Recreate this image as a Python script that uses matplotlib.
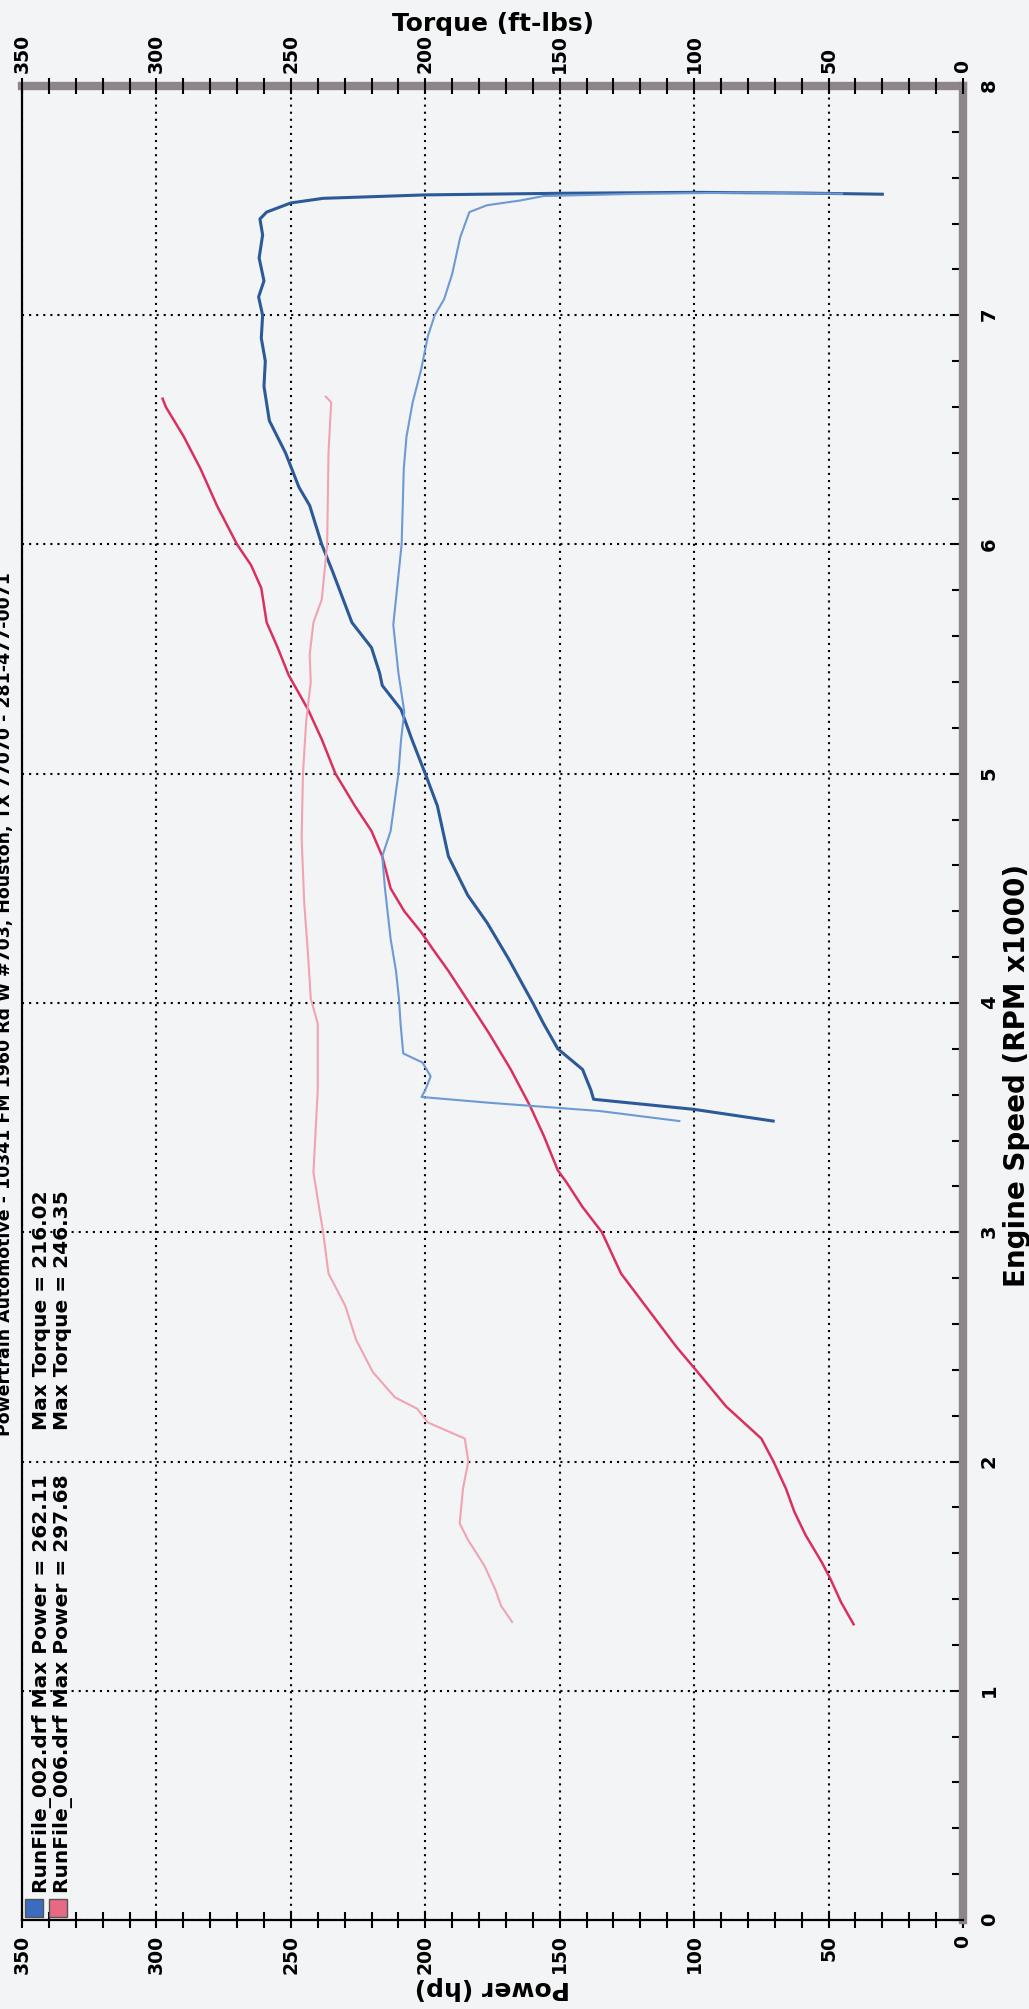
import numpy as np
import matplotlib.pyplot as plt
from matplotlib.patches import Rectangle

plt.rcParams['font.family'] = ['DejaVu Sans']
plt.rcParams['font.weight'] = 'bold'

# engine speed in rpm x1000, power in hp, torque in ft-lbs
# RunFile_002 (blue)
rpm_002_hp = [3.485, 3.536, 3.58, 3.62, 3.71, 3.80, 3.91, 4.0, 4.19, 4.35, 4.47, 4.64,
              4.86, 5.0, 5.15, 5.28, 5.385, 5.44, 5.55, 5.66, 5.88, 6.0, 6.17, 6.25,
              6.40, 6.54, 6.69, 6.8, 6.9, 7.0, 7.08, 7.15, 7.25, 7.35, 7.42, 7.45,
              7.49, 7.51, 7.525, 7.532, 7.536, 7.533, 7.528]
hp_002 = [70.6, 100.0, 137.4, 138.4, 141.5, 150.7, 156.0, 160.0, 168.9, 177.0, 184.2, 191.4,
          195.5, 200.0, 205.0, 209.0, 216.0, 217.0, 220.0, 227.3, 234.4, 238.5, 243.0, 247.0,
          252.0, 258.0, 260.0, 259.5, 261.0, 260.5, 262.0, 260.0, 261.8, 260.5, 261.5, 259.0,
          250.0, 238.0, 200.0, 150.0, 100.0, 60.0, 30.0]

rpm_002_tq = [3.485, 3.529, 3.565, 3.59, 3.62, 3.68, 3.74, 3.78, 3.91, 4.02, 4.14, 4.28,
              4.50, 4.64, 4.75, 5.0, 5.15, 5.27, 5.44, 5.65, 6.0, 6.33, 6.47, 6.62,
              6.76, 6.91, 7.0, 7.07, 7.18, 7.34, 7.45, 7.48, 7.50, 7.52, 7.53, 7.535, 7.53]
tq_002 = [105.5, 135.3, 176.4, 201.4, 200.0, 198.0, 201.0, 208.2, 209.2, 209.8, 210.9, 212.9,
          215.0, 216.0, 212.9, 210.0, 209.0, 207.8, 210.0, 211.9, 208.8, 208.0, 207.0, 204.7,
          201.6, 199.0, 196.5, 193.0, 190.0, 187.0, 183.6, 177.0, 165.0, 156.0, 120.0, 80.0, 45.0]

# RunFile_006 (red)
rpm_006_hp = [1.29, 1.385, 1.49, 1.56, 1.68, 1.78, 1.88, 2.0, 2.1, 2.24, 2.40, 2.50,
              2.66, 2.82, 3.0, 3.11, 3.22, 3.27, 3.42, 3.55, 3.71, 3.87, 4.0, 4.14,
              4.24, 4.31, 4.40, 4.50, 4.64, 4.75, 4.86, 5.0, 5.15, 5.28, 5.43, 5.55,
              5.66, 5.81, 5.91, 6.0, 6.17, 6.33, 6.47, 6.60, 6.636]
hp_006 = [40.7, 45.3, 49.4, 52.5, 58.6, 62.7, 65.8, 70.5, 75.0, 88.1, 99.4, 106.6,
          116.9, 127.2, 134.3, 141.5, 147.6, 150.7, 155.9, 161.0, 168.2, 176.4, 183.6, 191.4,
          197.5, 201.6, 207.8, 212.9, 216.0, 220.0, 226.2, 233.4, 238.5, 243.6, 250.8, 254.9,
          259.0, 261.0, 264.8, 270.0, 277.5, 283.6, 289.8, 296.5, 297.7]

rpm_006_tq = [1.30, 1.37, 1.44, 1.545, 1.66, 1.73, 1.88, 2.0, 2.10, 2.17, 2.23, 2.28,
              2.39, 2.53, 2.68, 2.82, 3.0, 3.26, 3.62, 3.91, 4.02, 4.21, 4.43, 4.72,
              5.0, 5.23, 5.40, 5.52, 5.66, 5.76, 6.0, 6.40, 6.62, 6.645]
tq_006 = [167.7, 171.8, 173.9, 178.0, 184.2, 187.2, 186.0, 184.0, 185.3, 199.0, 203.0, 211.3,
          219.5, 225.7, 229.8, 236.0, 238.0, 241.6, 240.0, 240.0, 242.6, 243.6, 245.0, 246.0,
          245.5, 244.3, 242.6, 243.0, 241.6, 238.5, 236.5, 236.0, 235.0, 237.0]

title = "Powertrain Automotive - 10341 FM 1960 Rd W #703, Houston, TX 77070 - 281-477-0071"
run_names = ["RunFile_002.drf", "RunFile_006.drf"]
max_power = [262.11, 297.68]
max_torque = [216.02, 246.35]
run_colors = ['#3c6cc0', '#e86a82']

paper = '#f3f4f6'
W, H = 1029, 2009
fig = plt.figure(figsize=(W / 100, H / 100), dpi=100, facecolor=paper)

# chart is printed turned a quarter turn: rpm runs up the page, power/torque run right-to-left
ax = fig.add_axes([22 / W, 1 - 1920 / H, (963 - 22) / W, (1920 - 86) / H])
ax.set_facecolor(paper)
ax.set_xlim(350, 0)
ax.set_ylim(0, 8)
ax.set_xticks(np.arange(0, 351, 50))
ax.set_xticks(np.arange(0, 351, 10), minor=True)
ax.set_yticks(range(9))
ax.set_yticks(np.arange(0, 8.01, 0.2), minor=True)
ax.yaxis.tick_right()
ax.grid(True, which='major', color='black', linestyle=(0, (1, 2.4)), linewidth=1.5)

ax.tick_params(axis='x', which='both', direction='inout', length=11, width=1.5,
               labelsize=13.5, labelrotation=90, pad=5, top=False)
ax.tick_params(axis='y', which='both', direction='in', length=8, width=1.5,
               labelsize=14, labelrotation=90, pad=12, left=False)

for side in ['left', 'bottom']:
    ax.spines[side].set_color('black')
    ax.spines[side].set_linewidth(1.6)
for side in ['top', 'right']:
    ax.spines[side].set_color('#8e858b')
    ax.spines[side].set_linewidth(6)

ax.set_xlabel('Power (hp)', fontsize=18, fontweight='bold', rotation=180, labelpad=2)

# torque scale along the top
axt = ax.twiny()
axt.set_xlim(350, 0)
axt.set_xticks(np.arange(0, 351, 50))
axt.set_xticks(np.arange(0, 351, 10), minor=True)
axt.tick_params(axis='x', which='both', direction='inout', length=11, width=1.5,
                labelsize=13.5, labelrotation=90, pad=4)
for s in axt.spines.values():
    s.set_visible(False)
axt.set_xlabel('Torque (ft-lbs)', fontsize=18, fontweight='bold', labelpad=2)

ax.plot(hp_002, rpm_002_hp, color='#2c5a98', linewidth=2.2, solid_joinstyle='round')
axt.plot(tq_002, rpm_002_tq, color='#6d9ad4', linewidth=1.5, solid_joinstyle='round')
ax.plot(hp_006, rpm_006_hp, color='#d9305e', linewidth=1.8, solid_joinstyle='round')
axt.plot(tq_006, rpm_006_tq, color='#f2a3b3', linewidth=1.5, solid_joinstyle='round')

# rpm axis title, hugging the right page edge
fig.text(1025 / W, 1 - 1287 / H, 'Engine Speed (RPM x1000)', fontsize=20, fontweight='bold',
         rotation=90, rotation_mode='anchor', ha='left', va='baseline')

# title, half of it runs off the page edge as in the scan
fig.text(10 / W, 1 - 1004 / H, title, fontsize=12.5, fontweight='bold', rotation=90,
         rotation_mode='anchor', ha='center', va='baseline')

# legend block in the lower corner
for i in range(2):
    xb = (47 + 21 * i) / W
    fig.add_artist(Rectangle(((25 + 24 * i) / W, 1 - 1917 / H), 18 / W, 18 / H,
                             transform=fig.transFigure, facecolor=run_colors[i],
                             edgecolor='#555555', linewidth=1))
    fig.text(xb, 1 - 1893 / H, '%s Max Power = %.2f' % (run_names[i], max_power[i]),
             fontsize=14.5, fontweight='bold', rotation=90, rotation_mode='anchor',
             ha='left', va='baseline')
    fig.text(xb, 1 - 1430 / H, 'Max Torque = %.2f' % max_torque[i],
             fontsize=14.5, fontweight='bold', rotation=90, rotation_mode='anchor',
             ha='left', va='baseline')

fig.savefig('out.png', dpi=100, facecolor=paper)
